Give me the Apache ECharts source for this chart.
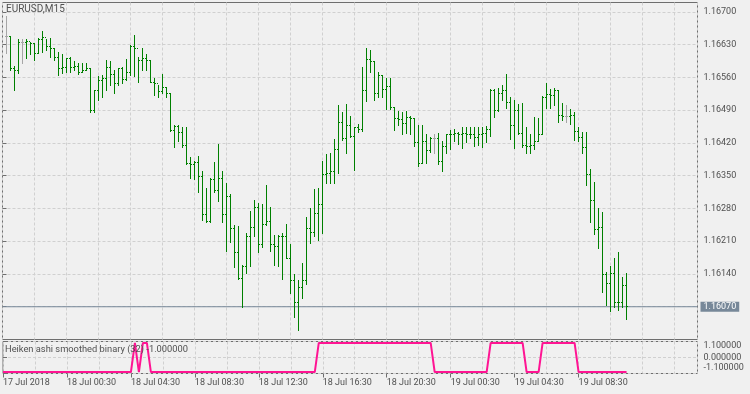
<!DOCTYPE html>
<html><head><meta charset="utf-8">
<script src="https://cdn.jsdelivr.net/npm/echarts@6/dist/echarts.min.js"></script>
<style>html,body{margin:0;padding:0;background:#f0f0f0}#c{width:750px;height:394px}</style>
</head><body><div id="c"></div>
<script>
const symbolTitle = 'EURUSD,M15';
const indicatorTitle = 'Heiken ashi smoothed binary (32) -1.000000';
const lastPrice = 1.16070;

const opens = [
1.16648,1.16648,1.16578,1.16575,1.16635,1.16635,1.16637,1.16633,1.16612,1.16642,
1.16646,1.16627,1.16622,1.16603,1.16580,1.16582,1.16601,1.16582,1.16584,1.16571,
1.16575,1.16578,1.16490,1.16533,1.16554,1.16558,1.16582,1.16567,1.16546,1.16580,
1.16556,1.16571,1.16625,1.16622,1.16597,1.16601,1.16597,1.16550,1.16548,1.16529,
1.16539,1.16526,1.16447,1.16456,1.16443,1.16415,1.16375,1.16373,1.16379,1.16349,
1.16268,1.16253,1.16341,1.16319,1.16345,1.16268,1.16306,1.16238,1.16185,1.16131,
1.16157,1.16221,1.16240,1.16283,1.16204,1.16246,1.16253,1.16204,1.16199,1.16221,
1.16219,1.16174,1.16125,1.16078,1.16112,1.16127,1.16238,1.16229,1.16270,1.16289,
1.16353,1.16355,1.16360,1.16407,1.16464,1.16430,1.16458,1.16434,1.16452,1.16449,
1.16531,1.16599,1.16593,1.16526,1.16563,1.16535,1.16541,1.16496,1.16473,1.16471,
1.16462,1.16475,1.16473,1.16420,1.16377,1.16422,1.16403,1.16430,1.16430,1.16381,
1.16413,1.16437,1.16439,1.16441,1.16439,1.16441,1.16439,1.16437,1.16432,1.16437,
1.16441,1.16449,1.16533,1.16490,1.16526,1.16533,1.16507,1.16458,1.16490,1.16441,
1.16415,1.16413,1.16415,1.16422,1.16437,1.16516,1.16524,1.16522,1.16533,1.16479,
1.16477,1.16477,1.16479,1.16445,1.16432,1.16411,1.16353,1.16298,1.16236,1.16240,
1.16138,1.16120,1.16140,1.16080,1.16078,1.16116];

const highs = [
1.16691,1.16648,1.16584,1.16640,1.16642,1.16640,1.16635,1.16633,1.16644,1.16657,
1.16642,1.16644,1.16622,1.16614,1.16608,1.16601,1.16603,1.16593,1.16590,1.16590,
1.16590,1.16580,1.16533,1.16561,1.16565,1.16597,1.16593,1.16575,1.16580,1.16582,
1.16599,1.16629,1.16650,1.16603,1.16622,1.16608,1.16597,1.16558,1.16543,1.16567,
1.16539,1.16526,1.16458,1.16458,1.16452,1.16454,1.16388,1.16381,1.16392,1.16358,
1.16323,1.16345,1.16379,1.16417,1.16358,1.16334,1.16309,1.16244,1.16242,1.16159,
1.16227,1.16274,1.16298,1.16291,1.16289,1.16330,1.16281,1.16223,1.16223,1.16227,
1.16246,1.16204,1.16138,1.16127,1.16163,1.16261,1.16279,1.16321,1.16323,1.16381,
1.16396,1.16398,1.16428,1.16499,1.16486,1.16503,1.16477,1.16454,1.16460,1.16582,
1.16622,1.16618,1.16593,1.16571,1.16565,1.16558,1.16558,1.16496,1.16488,1.16484,
1.16488,1.16477,1.16473,1.16458,1.16458,1.16437,1.16432,1.16437,1.16441,1.16422,
1.16437,1.16447,1.16449,1.16443,1.16452,1.16452,1.16452,1.16452,1.16454,1.16454,
1.16456,1.16535,1.16535,1.16537,1.16543,1.16567,1.16518,1.16511,1.16503,1.16505,
1.16452,1.16437,1.16475,1.16473,1.16520,1.16548,1.16535,1.16537,1.16533,1.16505,
1.16501,1.16492,1.16486,1.16454,1.16443,1.16443,1.16364,1.16336,1.16279,1.16272,
1.16144,1.16155,1.16174,1.16185,1.16133,1.16142];

const lows = [
1.16612,1.16575,1.16533,1.16569,1.16590,1.16601,1.16608,1.16597,1.16612,1.16614,
1.16618,1.16603,1.16597,1.16563,1.16569,1.16571,1.16571,1.16575,1.16567,1.16571,
1.16575,1.16484,1.16484,1.16511,1.16518,1.16533,1.16543,1.16526,1.16543,1.16548,
1.16554,1.16565,1.16561,1.16550,1.16575,1.16575,1.16550,1.16522,1.16518,1.16526,
1.16516,1.16445,1.16411,1.16424,1.16411,1.16373,1.16345,1.16341,1.16315,1.16255,
1.16249,1.16251,1.16313,1.16294,1.16249,1.16189,1.16208,1.16153,1.16129,1.16069,
1.16142,1.16155,1.16219,1.16185,1.16197,1.16244,1.16189,1.16159,1.16155,1.16129,
1.16174,1.16099,1.16046,1.16020,1.16088,1.16118,1.16206,1.16219,1.16212,1.16227,
1.16334,1.16334,1.16334,1.16355,1.16426,1.16398,1.16432,1.16362,1.16443,1.16445,
1.16509,1.16571,1.16511,1.16518,1.16518,1.16492,1.16492,1.16447,1.16458,1.16439,
1.16441,1.16439,1.16413,1.16370,1.16377,1.16377,1.16400,1.16398,1.16373,1.16360,
1.16398,1.16407,1.16424,1.16417,1.16409,1.16420,1.16430,1.16413,1.16415,1.16411,
1.16420,1.16434,1.16475,1.16488,1.16511,1.16494,1.16428,1.16409,1.16439,1.16411,
1.16398,1.16398,1.16407,1.16424,1.16437,1.16494,1.16494,1.16501,1.16464,1.16467,
1.16464,1.16460,1.16426,1.16424,1.16398,1.16330,1.16251,1.16225,1.16195,1.16101,
1.16073,1.16059,1.16069,1.16063,1.16069,1.16042];

const closes = [
1.16648,1.16578,1.16575,1.16635,1.16635,1.16637,1.16633,1.16612,1.16642,1.16646,
1.16627,1.16622,1.16603,1.16580,1.16582,1.16601,1.16582,1.16584,1.16571,1.16575,
1.16578,1.16490,1.16533,1.16554,1.16558,1.16582,1.16567,1.16546,1.16580,1.16556,
1.16571,1.16625,1.16622,1.16597,1.16601,1.16597,1.16550,1.16548,1.16529,1.16539,
1.16526,1.16447,1.16456,1.16443,1.16415,1.16375,1.16373,1.16379,1.16349,1.16268,
1.16253,1.16341,1.16319,1.16345,1.16268,1.16306,1.16238,1.16185,1.16131,1.16157,
1.16221,1.16240,1.16283,1.16204,1.16246,1.16253,1.16204,1.16199,1.16221,1.16219,
1.16174,1.16125,1.16078,1.16112,1.16127,1.16238,1.16229,1.16270,1.16289,1.16353,
1.16355,1.16360,1.16407,1.16464,1.16430,1.16458,1.16434,1.16452,1.16449,1.16531,
1.16599,1.16593,1.16526,1.16563,1.16535,1.16541,1.16496,1.16473,1.16471,1.16462,
1.16475,1.16473,1.16420,1.16377,1.16422,1.16403,1.16430,1.16430,1.16381,1.16413,
1.16437,1.16439,1.16441,1.16439,1.16441,1.16439,1.16437,1.16432,1.16437,1.16441,
1.16449,1.16533,1.16490,1.16526,1.16533,1.16507,1.16458,1.16490,1.16441,1.16415,
1.16413,1.16415,1.16422,1.16437,1.16516,1.16524,1.16522,1.16533,1.16479,1.16477,
1.16477,1.16479,1.16445,1.16432,1.16411,1.16353,1.16298,1.16236,1.16240,1.16138,
1.16120,1.16140,1.16080,1.16078,1.16116,1.16070];

// indicator value per bar slot (slot 0 = bar hidden at the left frame)
const signal = [
-1,-1,-1,-1,-1,-1,-1,-1,-1,-1,
-1,-1,-1,-1,-1,-1,-1,-1,-1,-1,
-1,-1,-1,-1,-1,-1,-1,-1,-1,-1,
-1,-1,-1, 1,-1, 1, 1,-1,-1,-1,
-1,-1,-1,-1,-1,-1,-1,-1,-1,-1,
-1,-1,-1,-1,-1,-1,-1,-1,-1,-1,
-1,-1,-1,-1,-1,-1,-1,-1,-1,-1,
-1,-1,-1,-1,-1,-1,-1,-1,-1, 1,
 1, 1, 1, 1, 1, 1, 1, 1, 1, 1,
 1, 1, 1, 1, 1, 1, 1, 1, 1, 1,
 1, 1, 1, 1, 1, 1, 1, 1,-1,-1,
-1,-1,-1,-1,-1,-1,-1,-1,-1,-1,
-1,-1, 1, 1, 1, 1, 1, 1, 1, 1,
 1,-1,-1,-1,-1, 1, 1, 1, 1, 1,
 1, 1, 1, 1,-1,-1,-1,-1,-1,-1,
-1,-1,-1,-1,-1,-1,-1];

const timeLabels = ['17 Jul 2018','18 Jul 00:30','18 Jul 04:30','18 Jul 08:30','18 Jul 12:30',
  '18 Jul 16:30','18 Jul 20:30','19 Jul 00:30','19 Jul 04:30','19 Jul 08:30'];
const timeLabelSlots = [0,16,32,48,64,80,96,112,128,144];
const priceTicks = [1.16070,1.16140,1.16210,1.16280,1.16350,1.16420,1.16490,1.16560,1.16630,1.16700];
const priceLabels = [1.16140,1.16210,1.16280,1.16350,1.16420,1.16490,1.16560,1.16630,1.16700];
const signalTicks = [-1.1, 0, 1.1];

const FONT = 'Roboto';
const TXT = '#505050';
const FRAME = '#6e6e6e';
const GRIDC = '#d0d0d0';
const GREEN = '#008000';
const DOJI = '#a6a6a6';
const PINK = '#ff1493';
const SLATE = '#778899';
const X_MAX = 173.75;

const ohlc = closes.map((c, i) => [i + 1, opens[i], highs[i], lows[i], c]);
const sig = signal.map((s, i) => [i, s]);

function renderBar(params, api) {
  const v = api.value(0), o = api.value(1), h = api.value(2), l = api.value(3), c = api.value(4);
  const pH = api.coord([v, h]), pL = api.coord([v, l]);
  const pO = api.coord([v, o]), pC = api.coord([v, c]);
  const x = Math.floor(pH[0]);
  const col = o === c ? DOJI : GREEN;
  const yT = Math.floor(pH[1]), yB = Math.floor(pL[1]);
  return {
    type: 'group',
    children: [
      {type: 'rect', shape: {x: x, y: yT, width: 1, height: Math.max(1, yB - yT + 1)}, style: {fill: col}},
      {type: 'rect', shape: {x: x - 1, y: Math.floor(pO[1]), width: 1, height: 1}, style: {fill: col}},
      {type: 'rect', shape: {x: x + 1, y: Math.floor(pC[1]), width: 1, height: 1}, style: {fill: col}}
    ]
  };
}

const lab = {fontFamily: FONT, fontSize: 9, color: TXT};
const dash = {show: true, lineStyle: {color: GRIDC, type: [3, 2], width: 1}};

const chart = echarts.init(document.getElementById('c'), null, {renderer: 'canvas'});
chart.setOption({
  backgroundColor: '#f0f0f0',
  animation: false,
  title: [
    {text: symbolTitle, left: 6, top: 4, padding: 0,
     textStyle: {fontFamily: FONT, fontSize: 10, color: TXT, fontWeight: 'normal'}},
    {text: indicatorTitle, left: 5, top: 345, padding: 0,
     textStyle: {fontFamily: FONT, fontSize: 9.3, color: TXT, fontWeight: 'normal'}}
  ],
  grid: [
    {left: 2.5, top: 2.5, width: 695, height: 337, show: true, borderColor: FRAME, borderWidth: 1, backgroundColor: 'transparent'},
    {left: 2.5, top: 341.5, width: 695, height: 32, show: true, borderColor: FRAME, borderWidth: 1, backgroundColor: 'transparent'}
  ],
  xAxis: [
    {gridIndex: 0, type: 'value', min: 0, max: X_MAX, interval: 8,
     axisLine: {show: false}, axisTick: {show: false}, axisLabel: {show: false}, splitLine: dash},
    {gridIndex: 1, type: 'value', min: 0, max: X_MAX, interval: 8,
     axisLine: {show: false}, axisTick: {show: false}, axisLabel: {show: false}, splitLine: dash},
    {gridIndex: 1, type: 'value', position: 'bottom', min: 0, max: X_MAX, interval: 16,
     axisLine: {show: false}, splitLine: {show: false},
     axisTick: {show: true, customValues: timeLabelSlots, length: 4, lineStyle: {color: FRAME}},
     axisLabel: Object.assign({show: true, customValues: timeLabelSlots, align: 'left', margin: 5,
       formatter: v => { const i = timeLabelSlots.indexOf(v); return i >= 0 ? timeLabels[i] : ''; }}, lab)}
  ],
  yAxis: [
    {gridIndex: 0, type: 'value', position: 'right', min: 1.16, max: 1.1672, interval: 0.0007,
     axisLine: {show: false},
     axisTick: {show: true, customValues: priceTicks, length: 4, lineStyle: {color: FRAME}},
     axisLabel: Object.assign({show: true, customValues: priceLabels, margin: 6,
       formatter: v => v.toFixed(5)}, lab),
     splitLine: dash},
    {gridIndex: 1, type: 'value', position: 'right', min: -1.1, max: 1.1, interval: 1.1,
     axisLine: {show: false},
     axisTick: {show: true, customValues: signalTicks, length: 4, lineStyle: {color: FRAME}},
     axisLabel: Object.assign({show: true, customValues: signalTicks, margin: 6,
       formatter: v => v > 0 ? '{t|' + v.toFixed(6) + '}' : (v < 0 ? '{b|' + v.toFixed(6) + '}' : v.toFixed(6)),
       rich: {
         t: {padding: [9, 0, 0, 0], fontFamily: FONT, fontSize: 9, color: TXT},
         b: {padding: [0, 0, 12, 0], fontFamily: FONT, fontSize: 9, color: TXT}
       }}, lab),
     splitLine: dash}
  ],
  series: [
    {type: 'line', xAxisIndex: 0, yAxisIndex: 0, data: [[0, lastPrice], [X_MAX, lastPrice]],
     symbol: 'none', silent: true, z: 2, clip: false,
     lineStyle: {color: SLATE, type: 'solid', width: 1},
     endLabel: {show: true, distance: 3, formatter: lastPrice.toFixed(5),
       backgroundColor: SLATE, color: '#ffffff', padding: [1, 3, 0, 3], lineHeight: 9,
       fontFamily: FONT, fontSize: 9}},
    {type: 'custom', xAxisIndex: 0, yAxisIndex: 0, data: ohlc, renderItem: renderBar, z: 3, clip: true},
    {type: 'line', xAxisIndex: 1, yAxisIndex: 1, data: sig, symbol: 'none', z: 3,
     lineStyle: {color: PINK, width: 2}, clip: true}
  ]
});
</script>
</body></html>
